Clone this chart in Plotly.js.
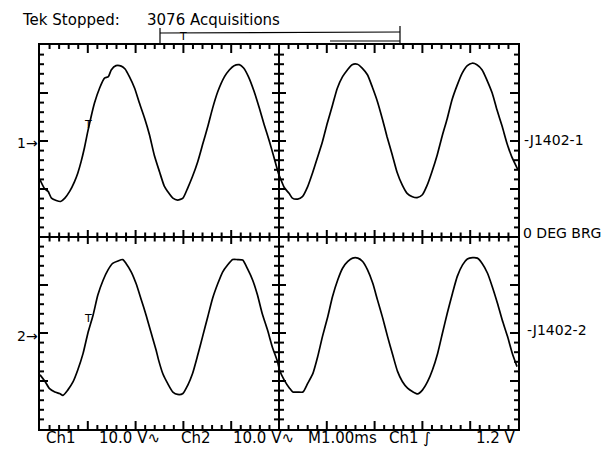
<!DOCTYPE html>
<html>
<head>
<meta charset="utf-8">
<script src="https://cdn.plot.ly/plotly-3.0.1.min.js"></script>
<style>
  html, body { margin: 0; padding: 0; background: #fff; }
  #chart { width: 606px; height: 451px; }
</style>
</head>
<body>
<div id="chart"></div>
<script>
// ---- Data (time in ms, voltage in V relative to channel ground) ----
const TIME_CH1 = [0.00,0.10,0.17,0.24,0.34,0.43,0.52,0.62,0.72,0.79,
  0.86,0.93,1.00,1.07,1.14,1.25,1.35,1.43,1.49,1.59,
  1.70,1.78,1.87,1.98,2.08,2.19,2.29,2.39,2.50,2.60,
  2.67,2.78,2.88,2.99,3.09,3.19,3.30,3.40,3.51,3.61,
  3.72,3.86,3.96,4.06,4.17,4.26,4.36,4.48,4.59,4.69,
  4.80,4.90,5.00,5.03,5.11,5.21,5.28,5.39,5.49,5.60,
  5.70,5.80,5.91,6.01,6.12,6.22,6.33,6.43,6.53,6.64,
  6.74,6.85,6.95,7.06,7.16,7.26,7.37,7.47,7.58,7.68,
  7.79,7.89,8.00,8.10,8.20,8.31,8.41,8.52,8.62,8.73,
  8.83,8.94,9.04,9.14,9.25,9.35,9.46,9.56,9.67,9.77,
  9.87,10.0];
const VOLT_CH1 = [-7.7,-9.6,-10.1,-11.5,-12.0,-12.2,-11.5,-10.1,-8.1,-6.3,
  -3.9,-1.0,2.4,5.5,8.3,11.5,13.5,13.8,15.2,16.1,
  16.0,15.4,13.8,11.4,8.3,5.1,1.7,-2.5,-6.0,-9.0,
  -10.1,-11.5,-11.9,-11.5,-9.4,-7.0,-3.9,-0.4,3.4,7.2,
  10.7,13.8,15.2,16.1,16.3,15.6,13.8,10.7,7.2,3.8,
  0.3,-3.2,-6.7,-7.4,-9.3,-10.5,-11.5,-11.7,-11.2,-9.1,
  -6.3,-3.2,0.3,4.1,7.9,11.4,13.8,15.2,16.3,16.4,
  15.6,14.2,11.7,8.6,5.1,1.3,-2.5,-6.1,-8.8,-10.5,
  -11.2,-11.4,-10.8,-8.8,-6.0,-2.5,1.3,5.1,9.0,12.1,
  14.5,16.1,16.6,16.3,15.2,13.1,10.4,6.9,3.4,-0.1,
  -2.9,-5.6];

const TIME_CH2 = [0.00,0.10,0.20,0.31,0.41,0.48,0.58,0.69,0.79,0.90,
  1.00,1.11,1.21,1.32,1.42,1.52,1.63,1.73,1.80,1.91,
  2.01,2.11,2.22,2.32,2.43,2.48,2.57,2.67,2.78,2.88,
  2.99,3.09,3.19,3.30,3.40,3.51,3.61,3.72,3.82,3.92,
  4.03,4.13,4.24,4.34,4.45,4.55,4.65,4.76,4.86,4.97,
  5.01,5.11,5.22,5.29,5.39,5.50,5.60,5.71,5.81,5.91,
  6.02,6.12,6.23,6.33,6.44,6.54,6.65,6.75,6.85,6.96,
  7.06,7.17,7.27,7.38,7.48,7.58,7.69,7.79,7.90,8.00,
  8.11,8.21,8.32,8.42,8.52,8.63,8.73,8.84,8.94,9.05,
  9.15,9.25,9.36,9.46,9.57,9.67,9.78,9.88,9.98];
const VOLT_CH2 = [-8.1,-9.4,-11.0,-11.7,-12.0,-12.4,-11.3,-9.6,-7.1,-3.7,
  0.5,4.3,8.5,11.6,13.7,15.1,15.6,15.9,15.1,13.3,
  10.9,7.8,4.3,0.8,-3.0,-5.0,-7.9,-9.9,-11.7,-12.2,
  -12.0,-10.3,-7.9,-4.0,-0.2,4.0,7.8,10.9,13.3,14.7,
  15.9,15.9,15.8,14.0,11.6,8.5,4.6,1.2,-2.3,-5.4,
  -7.1,-9.2,-10.9,-11.7,-11.7,-11.7,-9.9,-7.8,-4.3,-0.1,
  4.0,8.2,11.7,14.1,15.5,16.2,16.2,15.5,13.8,11.0,
  7.5,3.7,-0.1,-4.0,-7.4,-9.5,-10.9,-11.6,-12.1,-11.3,
  -9.5,-7.1,-3.6,0.6,4.7,8.9,12.4,14.8,16.0,16.3,
  16.2,15.1,13.1,10.3,6.8,3.3,-0.1,-3.6,-6.4];

// channel ground-marker levels on screen (V, 10 V/div)
const CH_GROUND = [19.6, -20.6];
const CH_MARKERS = ["1\u2192", "2\u2192"];
const TRIGGER_T = 1.0;
const TRIGGER_V = [3.8, 3.6];

const HEADER_LABELS = ["Tek Stopped:", "3076 Acquisitions"];
const BOTTOM_LABELS = ["Ch1", "10.0 V\u223F", "Ch2", "10.0 V\u223F", "M1.00ms", "Ch1 \u222B", "1.2 V"];
const RIGHT_LABELS = ["-J1402-1", "0 DEG BRG", "-J1402-2"];

// ---- Layout helpers ----
const W = 606, H = 451;
const L = 40, R = 88, T = 45, B = 22;
const PW = W - L - R, PH = H - T - B;
const XR = [0, 10], YR = [-40, 40];
const DX = (XR[1] - XR[0]) / PW;   // data units per pixel
const DY = (YR[1] - YR[0]) / PH;
const px = x => (x - L) / PW;          // pixel -> paper x
const py = y => (H - B - y) / PH;      // pixel -> paper y

const FONT = { family: "DejaVu Sans", size: 15, color: "#000" };
const FONT_S = { family: "DejaVu Sans", size: 14, color: "#000" };

const traces = [
  { x: TIME_CH1, y: VOLT_CH1.map(v => v + CH_GROUND[0]), mode: "lines",
    line: { color: "#000", width: 1.7, shape: "spline", smoothing: 0.6 }, hoverinfo: "skip", showlegend: false },
  { x: TIME_CH2, y: VOLT_CH2.map(v => v + CH_GROUND[1]), mode: "lines",
    line: { color: "#000", width: 1.7, shape: "spline", smoothing: 0.6 }, hoverinfo: "skip", showlegend: false }
];

// graticule tick segments as one line trace (null-separated)
const tickX = [], tickY = [];
const seg = (x0, x1, y0, y1) => { tickX.push(x0, x1, null); tickY.push(y0, y1, null); };
for (let i = 1; i < 50; i++) {
  const x = i * 0.2, major = (i % 5 === 0);
  const c = (major ? 7 : 4.5) * DY, e = (major ? 8 : 4) * DY;
  seg(x, x, -c, c);                       // centre crosses
  seg(x, x, YR[1], YR[1] - e);            // top edge
  seg(x, x, YR[0], YR[0] + e);            // bottom edge
}
for (let j = 1; j < 40; j++) {
  const y = YR[0] + j * 2, major = (j % 5 === 0);
  const c = (major ? 7 : 5) * DX, e = (major ? 8 : 4) * DX;
  seg(5 - c, 5 + c, y, y);                // centre crosses
  seg(XR[0], XR[0] + e, y, y);            // left edge
  seg(XR[1], XR[1] - e, y, y);            // right edge
}
// centre graticule lines
seg(XR[0], XR[1], 0, 0);
seg(5, 5, YR[0], YR[1]);
traces.unshift({ x: tickX, y: tickY, mode: "lines", connectgaps: false,
  line: { color: "#000", width: 2 }, hoverinfo: "skip", showlegend: false });

const shapes = [];
// record-length bar above the graticule
const bar = { color: "#000", width: 1.2 };
const pseg = (x0, x1, y0, y1) => shapes.push({ type: "line", xref: "paper", yref: "paper",
  x0: px(x0), x1: px(x1), y0: py(y0), y1: py(y1), line: bar });
pseg(160, 400, 33, 32);
pseg(160, 160, 28, 44);
pseg(400, 400, 26, 43);
pseg(330, 400, 41, 41);
pseg(160, 166, 44, 44);

const annotations = [];
const addText = (text, x, y, font, xanchor) => annotations.push({
  text, x, y, xref: "paper", yref: "paper", xanchor: xanchor || "left", yanchor: "middle",
  showarrow: false, font });

addText(HEADER_LABELS[0], px(20), py(20), FONT);
addText(HEADER_LABELS[1], px(145), py(20), FONT);
const bottomX = [44, 97, 179, 231, 306, 387, 474];
BOTTOM_LABELS.forEach((t, i) => addText(t, px(bottomX[i]), py(438), FONT));
const rightX = [522, 521, 525];
const rightY = [140, 233, 330];
RIGHT_LABELS.forEach((t, i) => addText(t, px(rightX[i]), py(rightY[i]), FONT_S));
addText("T", px(183), py(36), { family: "DejaVu Sans", size: 11, color: "#000" }, "center");

CH_MARKERS.forEach((t, i) => annotations.push({
  text: t, x: 0, xref: "paper", y: CH_GROUND[i], yref: "y", xanchor: "right", yanchor: "middle",
  showarrow: false, font: FONT_S }));
TRIGGER_V.forEach((v, i) => annotations.push({
  text: "T", x: TRIGGER_T, y: v + CH_GROUND[i], xref: "x", yref: "y",
  xanchor: "center", yanchor: "middle", showarrow: false,
  font: { family: "DejaVu Sans", size: 11, color: "#000" } }));

const axisBase = {
  showline: true, linecolor: "#000", linewidth: 2, mirror: true,
  ticks: "", showticklabels: false, showgrid: false, zeroline: false, fixedrange: true
};

const layout = {
  width: W, height: H,
  margin: { l: L, r: R, t: T, b: B, pad: 0 },
  paper_bgcolor: "#fff", plot_bgcolor: "#fff",
  showlegend: false,
  xaxis: Object.assign({}, axisBase, { range: XR }),
  yaxis: Object.assign({}, axisBase, { range: YR }),
  shapes, annotations
};

Plotly.newPlot("chart", traces, layout, { displayModeBar: false, staticPlot: true });
</script>
</body>
</html>
